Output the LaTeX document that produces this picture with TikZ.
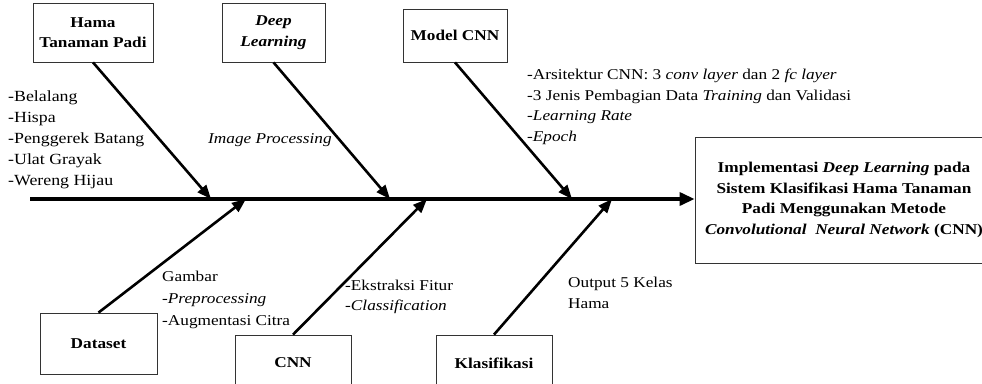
\documentclass[tikz,border=0pt]{standalone}
\usepackage{fontspec}
\setmainfont[FakeStretch=1.15]{Liberation Serif}
\usepackage{tikz}
\usetikzlibrary{arrows.meta, positioning}

\begin{document}
\begin{tikzpicture}[
    x=1pt, y=-1pt,
    box/.style={draw=black!80, line width=0.8pt, inner sep=0pt, align=center, font=\fontsize{15}{20.5}\selectfont\bfseries},
    branch/.style={-{Triangle[length=14pt, width=11pt]}, line width=2.6pt},
    spine/.style={-{Triangle[length=15pt, width=13pt]}, line width=3.4pt},
    note/.style={inner sep=0pt, align=left, anchor=west, font=\fontsize{15}{20.5}\selectfont},
]
\useasboundingbox (0,0) rectangle (982,383);

% Causes (top)
\node[box, minimum width=120, minimum height=59] (hama) at (93, 32.5) {Hama\\Tanaman Padi};
\node[box, minimum width=103, minimum height=59] (deep) at (273.5, 32.5) {\textit{Deep}\\\textit{Learning}};
\node[box, minimum width=104, minimum height=53] (model) at (455, 35.5) {Model CNN};

% Causes (bottom)
\node[box, minimum width=117, minimum height=61] (dataset) at (98.5, 343.5) {Dataset};
\node[box, minimum width=116, minimum height=56] (cnn) at (293, 363) {CNN};
\node[box, minimum width=116, minimum height=56] (klas) at (494, 363) {Klasifikasi};

% Effect
\node[box, minimum width=298, minimum height=126] (goal) at (844, 200) {Implementasi \textit{Deep Learning} pada\\Sistem Klasifikasi Hama Tanaman\\Padi Menggunakan Metode\\\textit{Convolutional\ \ Neural Network} (CNN)};

% Spine
\coordinate (tail) at (30, 199);
\coordinate (t1) at (211, 199);
\coordinate (t2) at (390, 199);
\coordinate (t3) at (572, 199);
\coordinate (b1) at (246, 199);
\coordinate (b2) at (427, 199);
\coordinate (b3) at (612, 199);
\draw[spine] (tail) -- (goal.west |- tail);

% Branches
\draw[branch] (hama.south) -- (t1);
\draw[branch] (deep.south) -- (t2);
\draw[branch] (model.south) -- (t3);
\draw[branch] (dataset.north) -- (b1);
\draw[branch] (cnn.north) -- (b2);
\draw[branch] (klas.north) -- (b3);

% Notes
\node[note, font=\fontsize{15.5}{21}\selectfont] (hamanote) at (8, 140) {-Belalang\\-Hispa\\-Penggerek Batang\\-Ulat Grayak\\-Wereng Hijau};
\node[note] (deepnote) at (208, 140) {\textit{Image Processing}};
\node[note] (modelnote) at (527, 107) {-Arsitektur CNN: 3 \textit{conv layer} dan 2 \textit{fc layer}\\-3 Jenis Pembagian Data \textit{Training} dan Validasi\\-\textit{Learning Rate}\\-\textit{Epoch}};
\node[note, font=\fontsize{15}{22}\selectfont] (datanote) at (162, 300) {Gambar\\-\textit{Preprocessing}\\-Augmentasi Citra};
\node[note] (cnnnote) at (345, 297) {-Ekstraksi Fitur\\-\textit{Classification}};
\node[note] (klasnote) at (568, 293) {Output 5 Kelas\\Hama};
\end{tikzpicture}
\end{document}
